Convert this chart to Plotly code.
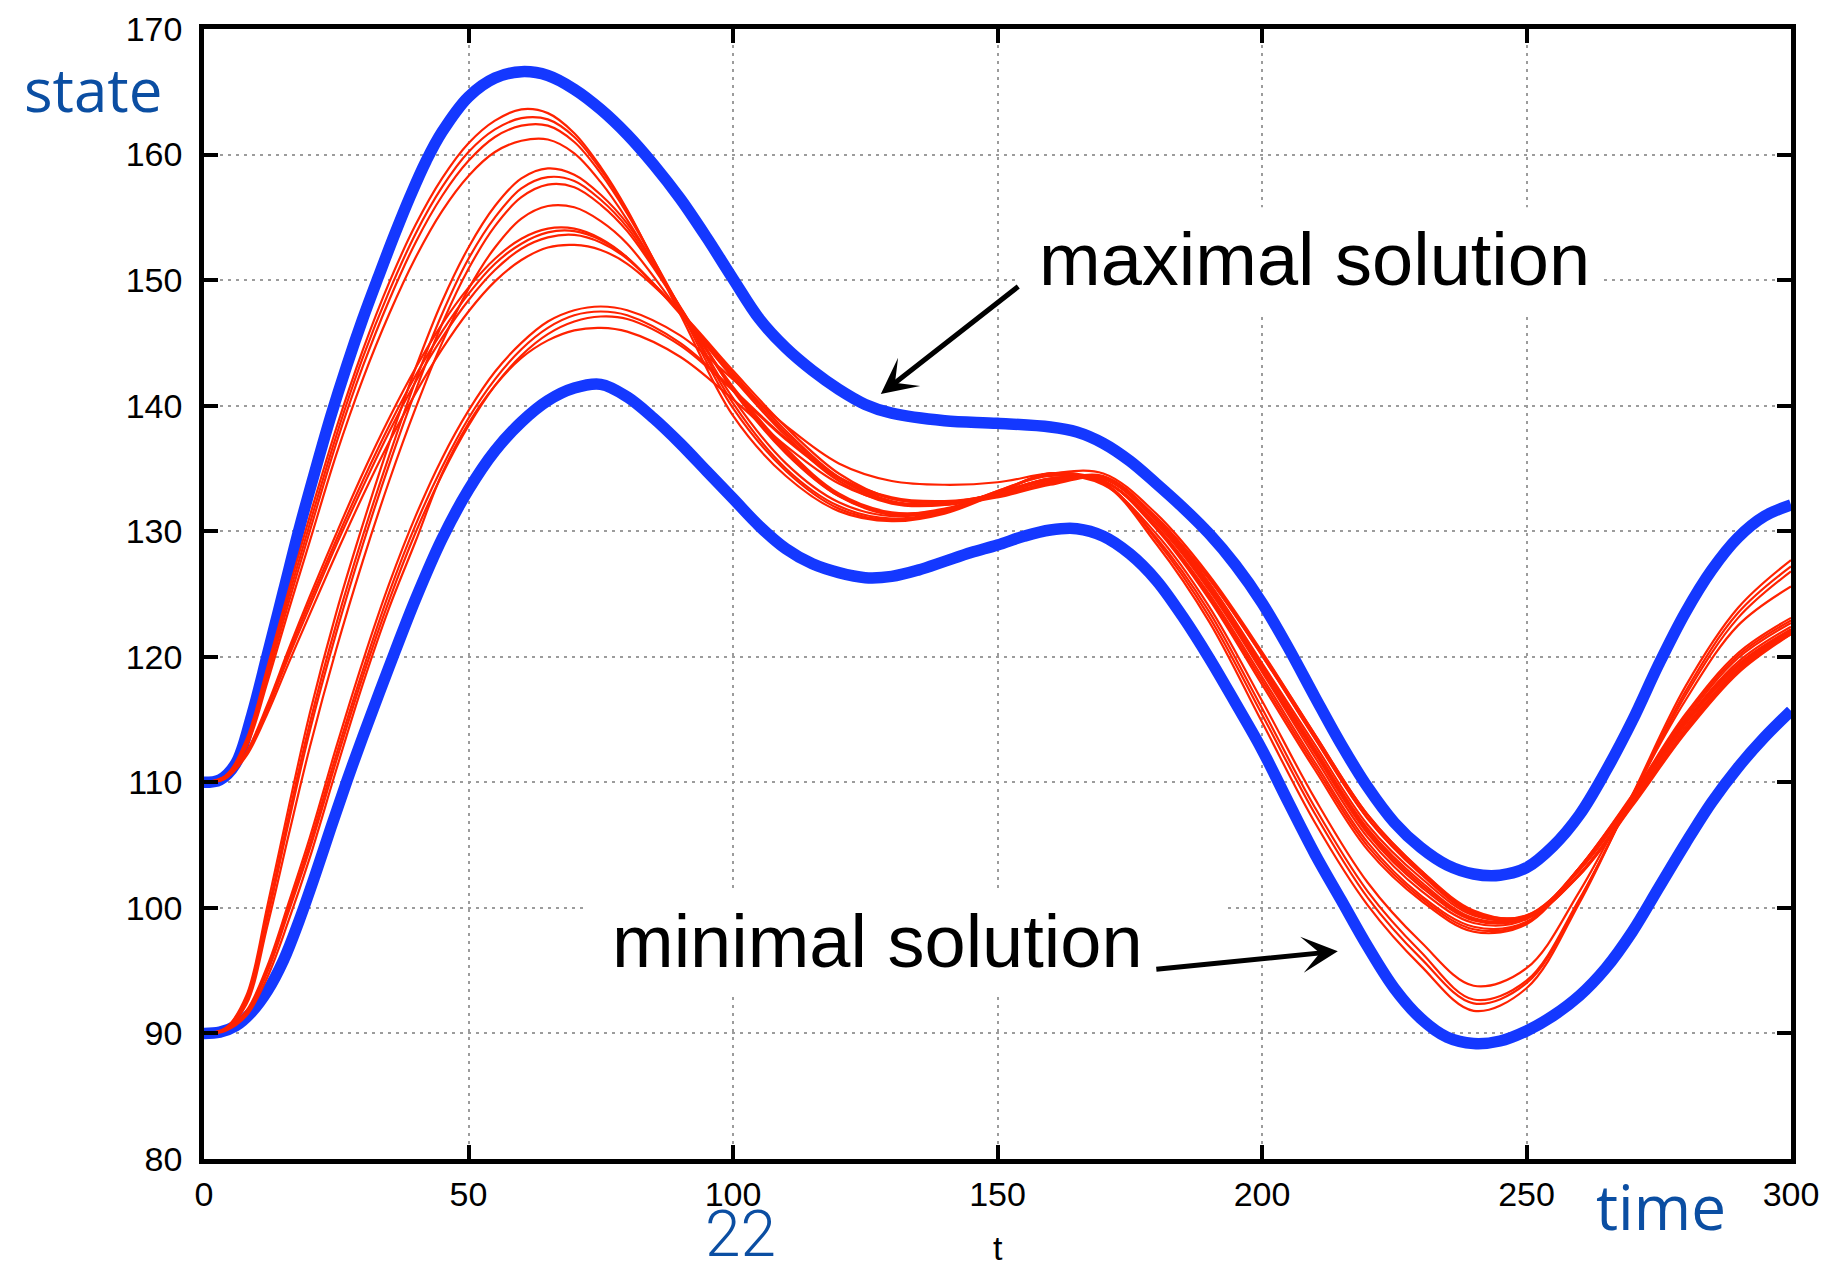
import plotly.graph_objects as go

# ---------------- data ----------------
t_max = [0, 3, 6, 9, 12, 15, 18, 21, 24, 27, 30, 33, 36, 39, 42, 45, 50, 55, 60, 65, 70, 75, 80, 85, 90,
         95, 100, 105, 110, 115, 120, 125, 130, 140, 150, 160, 165, 170, 175, 180, 185, 190, 195, 200,
         205, 210, 215, 220, 225, 230, 235, 240, 245, 250, 255, 260, 265, 270, 275, 280, 285, 290, 295, 300]
maximal = [110, 110.2, 111.5, 115.3, 120.2, 125.2, 130.2, 134.8, 139.2, 143.2, 146.9, 150.3, 153.6, 156.7,
           159.5, 161.8, 164.6, 166.1, 166.6, 166.3, 165.2, 163.6, 161.6, 159.2, 156.5, 153.4, 150.1, 146.9,
           144.6, 142.8, 141.3, 140.1, 139.4, 138.8, 138.6, 138.3, 137.9, 137.0, 135.6, 133.8, 131.9, 129.8,
           127.3, 124.3, 120.7, 116.8, 113.0, 109.6, 106.8, 104.8, 103.4, 102.7, 102.6, 103.2, 104.9, 107.4,
           110.9, 114.9, 119.4, 123.5, 126.9, 129.5, 131.2, 132.1]

t_min = [0, 3, 6, 9, 12, 15, 18, 21, 24, 27, 30, 35, 40, 45, 50, 55, 60, 65, 70, 75, 80, 85, 90, 95, 100,
         105, 110, 115, 120, 125, 130, 135, 140, 145, 150, 155, 160, 165, 170, 175, 180, 185, 190, 195,
         200, 205, 210, 215, 220, 225, 230, 235, 240, 245, 250, 255, 260, 265, 270, 275, 280, 285, 290, 295, 300]
minimal = [90, 90.1, 90.6, 91.7, 93.4, 95.8, 99.0, 102.6, 106.4, 110.1, 113.6, 119.2, 124.6, 129.4, 133.3,
           136.4, 138.7, 140.4, 141.4, 141.7, 140.7, 139.0, 137.0, 134.8, 132.6, 130.4, 128.6, 127.4, 126.7,
           126.3, 126.4, 126.9, 127.6, 128.3, 128.9, 129.6, 130.1, 130.2, 129.6, 128.2, 126.1, 123.2, 119.9,
           116.3, 112.6, 108.4, 104.3, 100.6, 96.9, 93.6, 91.2, 89.7, 89.2, 89.4, 90.2, 91.4, 93.0, 95.2,
           98.1, 101.6, 105.1, 108.4, 111.2, 113.6, 115.7]

t_red = [0, 4, 8, 12, 16, 20, 25, 30, 35, 40, 45, 50, 55, 60, 65, 70, 75, 80, 90, 100, 110, 120, 130, 140,
         150, 160, 170, 180, 190, 200, 210, 220, 230, 240, 250, 260, 270, 280, 290, 300]

red_a1 = [110, 110.5, 113.4, 119.2, 125.3, 131.2, 138.2, 144.4, 149.8, 154.4, 158.1, 160.9, 162.7, 163.6, 163.3,
          161.7, 159.0, 155.6, 147.3, 139.2, 134.4, 131.6, 130.8, 131.4, 133.0, 134.6, 133.8, 129.0, 122.8,
          114.8, 106.8, 100.2, 95.4, 91.8, 93.6, 100.4, 109.0, 117.6, 123.9, 127.7]
red_a2 = [110, 110.5, 113.2, 118.8, 124.8, 130.6, 137.6, 143.8, 149.1, 153.7, 157.4, 160.2, 162.0, 162.9, 162.8,
          161.4, 158.8, 155.5, 147.6, 139.8, 134.8, 131.8, 130.9, 131.5, 133.1, 134.6, 133.9, 129.3, 123.2,
          115.4, 107.5, 100.8, 96.0, 92.4, 94.0, 100.6, 108.9, 117.2, 123.5, 127.2]
red_a3 = [110, 110.4, 113.0, 118.4, 124.3, 130.0, 137.0, 143.1, 148.4, 153.0, 156.7, 159.5, 161.4, 162.3, 162.3,
          161.0, 158.5, 155.3, 147.8, 140.2, 135.0, 132.0, 131.0, 131.6, 133.2, 134.5, 133.8, 129.5, 123.6,
          115.9, 108.0, 101.3, 96.5, 92.7, 94.2, 100.7, 108.8, 116.9, 123.1, 126.8]
red_a4 = [110, 110.4, 112.8, 118.0, 123.7, 129.2, 136.1, 142.1, 147.3, 151.8, 155.5, 158.3, 160.2, 161.1, 161.2,
          160.1, 157.8, 154.8, 147.8, 140.6, 135.4, 132.3, 131.2, 131.7, 133.2, 134.4, 133.7, 129.8, 124.0,
          116.5, 108.7, 102.0, 97.3, 93.8, 95.2, 101.3, 109.0, 116.5, 122.5, 125.6]
red_b1 = [90, 90.4, 93.0, 100.2, 108.0, 115.5, 123.5, 130.5, 137.0, 143.0, 148.3, 152.6, 155.9, 158.1, 158.9,
          158.4, 156.8, 154.5, 147.9, 141.2, 136.2, 132.8, 131.4, 131.8, 133.0, 134.2, 134.0, 130.2, 124.6,
          117.8, 111.0, 104.6, 100.6, 98.1, 98.7, 103.2, 109.0, 115.4, 120.3, 123.1]
red_b2 = [90, 90.4, 92.8, 99.6, 107.3, 114.7, 122.6, 129.6, 136.0, 142.0, 147.3, 151.7, 155.0, 157.3, 158.2,
          157.9, 156.4, 154.2, 147.8, 141.3, 136.3, 132.8, 131.3, 131.7, 133.0, 134.2, 134.0, 130.3, 124.8,
          118.1, 111.3, 104.9, 100.8, 98.3, 98.8, 103.2, 108.9, 115.2, 120.1, 122.9]
red_b3 = [90, 90.3, 92.6, 99.2, 106.8, 114.1, 121.9, 128.9, 135.3, 141.2, 146.5, 150.9, 154.3, 156.6, 157.6,
          157.4, 156.0, 153.9, 147.8, 141.4, 136.4, 132.9, 131.4, 131.7, 133.0, 134.2, 134.0, 130.4, 125.0,
          118.4, 111.6, 105.2, 101.0, 98.5, 98.9, 103.2, 108.8, 115.0, 119.9, 122.7]
red_b4 = [90, 90.3, 92.3, 98.6, 105.8, 112.8, 120.6, 127.6, 134.0, 139.8, 145.0, 149.3, 152.6, 154.9, 155.9,
          155.8, 154.7, 152.9, 147.4, 141.5, 136.6, 133.0, 131.5, 131.7, 132.9, 134.1, 134.0, 130.6, 125.3,
          118.8, 112.0, 105.6, 101.4, 98.8, 99.1, 103.2, 108.7, 114.8, 119.6, 122.4]
red_c1 = [110, 110.3, 112.4, 116.2, 120.6, 124.8, 129.8, 134.6, 139.0, 143.0, 146.5, 149.4, 151.7, 153.3, 154.1,
          154.1, 153.3, 151.8, 147.3, 142.2, 137.6, 134.0, 132.2, 132.1, 133.0, 134.1, 134.2, 130.8, 125.5,
          118.9, 112.3, 105.9, 101.7, 99.0, 99.2, 103.1, 108.8, 114.8, 119.4, 122.2]
red_c2 = [110, 110.3, 112.3, 116.0, 120.3, 124.4, 129.3, 134.0, 138.4, 142.4, 145.9, 148.9, 151.3, 152.9, 153.8,
          153.9, 153.2, 151.8, 147.4, 142.4, 137.8, 134.2, 132.3, 132.2, 133.0, 134.1, 134.2, 130.9, 125.6,
          119.1, 112.5, 106.1, 101.9, 99.1, 99.3, 103.1, 108.7, 114.7, 119.3, 122.1]
red_c3 = [110, 110.3, 112.2, 115.8, 120.0, 124.0, 128.9, 133.5, 137.9, 141.9, 145.4, 148.4, 150.8, 152.5, 153.4,
          153.6, 153.0, 151.7, 147.5, 142.6, 138.0, 134.3, 132.4, 132.2, 133.0, 134.1, 134.2, 131.0, 125.7,
          119.3, 112.7, 106.3, 102.1, 99.2, 99.3, 103.0, 108.6, 114.6, 119.2, 122.0]
red_c4 = [110, 110.3, 112.1, 115.5, 119.5, 123.4, 128.2, 132.8, 137.1, 141.0, 144.5, 147.5, 149.9, 151.6, 152.6,
          152.8, 152.4, 151.3, 147.5, 142.8, 138.3, 134.6, 132.6, 132.3, 133.0, 134.0, 134.2, 131.1, 125.9,
          119.5, 113.0, 106.6, 102.4, 99.4, 99.4, 103.0, 108.5, 114.4, 119.0, 121.8]
red_d1 = [90, 90.3, 91.8, 95.4, 100.4, 105.6, 112.8, 119.6, 125.8, 131.2, 135.8, 139.6, 142.7, 145.0, 146.7,
          147.6, 147.9, 147.6, 145.6, 142.1, 138.4, 135.4, 134.0, 133.7, 133.9, 134.6, 134.6, 131.4, 126.5,
          120.4, 113.8, 107.4, 103.0, 99.7, 99.4, 102.7, 108.2, 114.0, 118.8, 121.9]
red_d2 = [90, 90.3, 91.7, 95.1, 100.0, 105.1, 112.2, 118.9, 125.1, 130.5, 135.1, 139.0, 142.1, 144.5, 146.2,
          147.2, 147.5, 147.2, 145.0, 141.3, 137.4, 134.3, 132.7, 132.4, 132.9, 133.9, 134.4, 131.1, 126.2,
          120.1, 113.5, 107.1, 102.7, 99.5, 99.2, 102.7, 108.3, 114.2, 119.0, 122.1]
red_d3 = [90, 90.3, 91.6, 94.9, 99.7, 104.7, 111.7, 118.4, 124.5, 129.9, 134.5, 138.4, 141.6, 144.0, 145.7,
          146.7, 147.1, 146.9, 144.8, 141.2, 137.3, 134.2, 132.6, 132.3, 132.8, 133.8, 134.3, 131.1, 126.2,
          120.1, 113.5, 107.1, 102.8, 99.6, 99.2, 102.6, 108.2, 114.1, 118.9, 122.0]
red_d4 = [90, 90.2, 91.4, 94.5, 99.0, 104.0, 111.0, 117.8, 123.9, 129.2, 134.6, 138.6, 141.6, 143.8, 145.2,
          146.0, 146.2, 145.9, 143.9, 140.5, 136.8, 133.8, 132.3, 132.1, 132.7, 133.7, 134.2, 131.0, 126.3,
          120.3, 113.8, 107.4, 103.0, 99.8, 99.3, 102.6, 108.1, 113.9, 118.7, 121.8]

red_curves = [red_a1, red_a2, red_a3, red_a4, red_b1, red_b2, red_b3, red_b4,
              red_c1, red_c2, red_c3, red_c4, red_d1, red_d2, red_d3, red_d4]

x_ticks = [0, 50, 100, 150, 200, 250, 300]
y_ticks = [80, 90, 100, 110, 120, 130, 140, 150, 160, 170]

# ---------------- figure ----------------
BLUE = "#1438ff"
RED = "#ff2200"
LABEL_BLUE = "#0b4ea2"
FONT = "Liberation Sans, Arial, sans-serif"

fig = go.Figure()
fig.add_trace(go.Scatter(x=t_max, y=maximal, mode="lines", line=dict(color=BLUE, width=11.5, shape="spline"),
                         showlegend=False, hoverinfo="skip"))
fig.add_trace(go.Scatter(x=t_min, y=minimal, mode="lines", line=dict(color=BLUE, width=11.5, shape="spline"),
                         showlegend=False, hoverinfo="skip"))
for yv in red_curves:
    fig.add_trace(go.Scatter(x=t_red, y=yv, mode="lines", line=dict(color=RED, width=2.2, shape="spline"),
                             showlegend=False, hoverinfo="skip"))

axis_common = dict(
    showgrid=True, gridcolor="#9c9c9c", gridwidth=2, griddash="3px,5px",
    showline=True, linecolor="black", linewidth=4.5, mirror="ticks",
    ticks="inside", ticklen=14, tickwidth=4, tickcolor="black",
    tickfont=dict(family=FONT, size=34, color="black"), zeroline=False,
    automargin=False,
)
fig.update_xaxes(range=[0, 300], tickvals=x_ticks, ticklabelstandoff=1, **axis_common)
fig.update_yaxes(range=[80, 170], tickvals=y_ticks, ticklabelstandoff=10, **axis_common)

# white boxes behind the annotation texts (hide grid only)
fig.add_shape(type="rect", xref="x", yref="y", x0=153.5, x1=264.4, y0=147.4, y1=155.8,
              fillcolor="white", line=dict(width=0), layer="between")
fig.add_shape(type="rect", xref="x", yref="y", x0=72.2, x1=193.0, y0=93.05, y1=101.4,
              fillcolor="white", line=dict(width=0), layer="between")

fig.add_annotation(x=209.85, y=151.62, xref="x", yref="y", text="maximal solution", showarrow=False,
                   font=dict(family=FONT, size=74, color="black"), xanchor="center", yanchor="middle")
fig.add_annotation(x=127.28, y=97.35, xref="x", yref="y", text="minimal solution", showarrow=False,
                   font=dict(family=FONT, size=74, color="black"), xanchor="center", yanchor="middle")

# arrows
fig.add_annotation(x=127.94, y=140.93, ax=154.2, ay=149.58, xref="x", yref="y", axref="x", ayref="y",
                   text="", showarrow=True, arrowhead=3, arrowsize=1.2, arrowwidth=5, arrowcolor="black")
fig.add_annotation(x=214.33, y=96.55, ax=179.74, ay=95.10, xref="x", yref="y", axref="x", ayref="y",
                   text="", showarrow=True, arrowhead=3, arrowsize=1.2, arrowwidth=5, arrowcolor="black")

# labels
fig.add_annotation(x=-0.0701, y=0.947, xref="paper", yref="paper", text="state", showarrow=False,
                   font=dict(family="Open Sans, sans-serif", size=60, color=LABEL_BLUE),
                   xanchor="center", yanchor="middle")
fig.add_annotation(x=0.918, y=-0.0416, xref="paper", yref="paper", text="time", showarrow=False,
                   font=dict(family="Open Sans, sans-serif", size=62, color=LABEL_BLUE),
                   xanchor="center", yanchor="middle")
fig.add_annotation(x=0.5, y=-0.0787, xref="paper", yref="paper", text="t", showarrow=False,
                   font=dict(family=FONT, size=34, color="black"), xanchor="center", yanchor="middle")
fig.add_annotation(x=0.338, y=-0.0664, xref="paper", yref="paper", text="22", showarrow=False,
                   font=dict(family="Roboto, sans-serif", size=64, color=LABEL_BLUE, weight=300),
                   xanchor="center", yanchor="middle")

fig.update_layout(
    width=1826, height=1263,
    margin=dict(l=196, r=43, t=21, b=112, pad=0),
    paper_bgcolor="white", plot_bgcolor="white",
    font=dict(family=FONT, color="black"),
)

fig.write_html("out.html")
